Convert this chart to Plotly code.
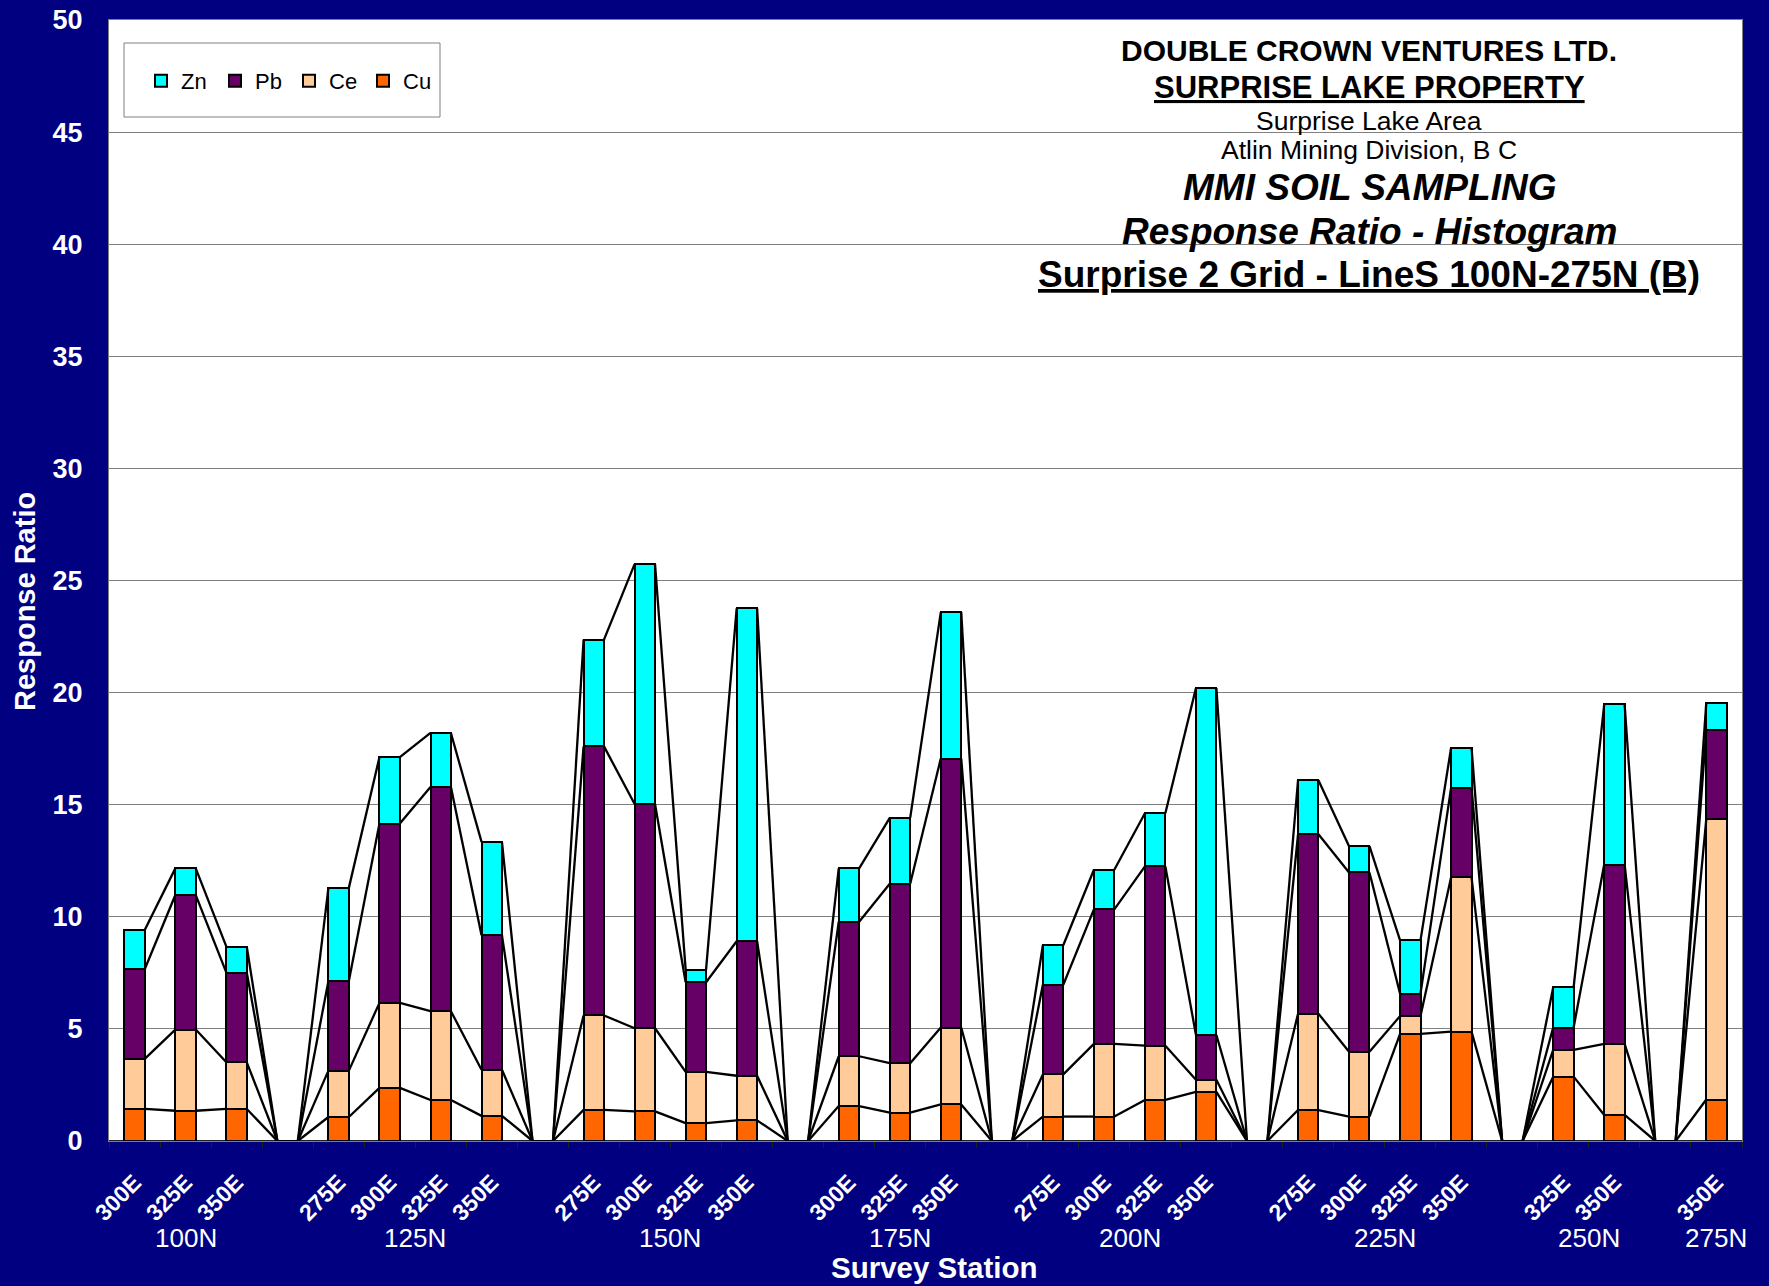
import numpy as np
import plotly.graph_objects as go

# ---------------- data ----------------
lines = ["100N", "100N", "100N", "",
         "125N", "125N", "125N", "125N", "",
         "150N", "150N", "150N", "150N", "",
         "175N", "175N", "175N", "",
         "200N", "200N", "200N", "200N", "",
         "225N", "225N", "225N", "225N", "",
         "250N", "250N", "",
         "275N"]
stations = ["300E", "325E", "350E", "",
            "275E", "300E", "325E", "350E", "",
            "275E", "300E", "325E", "350E", "",
            "300E", "325E", "350E", "",
            "275E", "300E", "325E", "350E", "",
            "275E", "300E", "325E", "350E", "",
            "325E", "350E", "",
            "350E"]
cu = [1.43, 1.35, 1.43, 0, 1.07, 2.37, 1.83, 1.12, 0, 1.39, 1.32, 0.80, 0.92, 0,
      1.56, 1.27, 1.63, 0, 1.09, 1.09, 1.83, 2.19, 0, 1.38, 1.09, 4.78, 4.88, 0,
      2.87, 1.16, 0, 1.85]
ce = [2.23, 3.62, 2.08, 0, 2.07, 3.79, 3.96, 2.06, 0, 4.21, 3.71, 2.28, 1.99, 0,
      2.22, 2.20, 3.43, 0, 1.88, 3.24, 2.42, 0.54, 0, 4.30, 2.89, 0.79, 6.88, 0,
      1.19, 3.17, 0, 12.50]
pb = [4, 6, 4, 0, 4, 8, 10, 6, 0, 12, 10, 4, 6, 0,
      6, 8, 12, 0, 4, 6, 8, 2, 0, 8, 8, 1, 4, 0,
      1, 8, 0, 4]
zn = [1.75, 1.19, 1.16, 0, 4.15, 2.96, 2.41, 4.16, 0, 4.76, 10.70, 0.56, 14.85, 0,
      2.38, 2.94, 6.53, 0, 1.76, 1.77, 2.37, 15.47, 0, 2.41, 1.17, 2.38, 1.78, 0,
      1.79, 7.14, 0, 1.19]
series_names = ["Cu", "Ce", "Pb", "Zn"]
series_colors = ["#FF6600", "#FFCC99", "#660066", "#00FFFF"]
y_ticks = [0, 5, 10, 15, 20, 25, 30, 35, 40, 45, 50]

# ---------------- styling ----------------
FONT = "Liberation Sans, Arial, sans-serif"
NAVY = "#000080"
BAR_W = 0.4
W, H = 1769, 1286
ML, MR, MT, MB = 109, 27, 20, 145
PW, PH = W - ML - MR, H - MT - MB

def px_x(px):
    return (px - ML) / PW

def px_y(py):
    return 1 - (py - MT) / PH

x = np.arange(len(stations))
values = [cu, ce, pb, zn]

fig = go.Figure()
for name, col, vals in zip(series_names, series_colors, values):
    fig.add_trace(go.Bar(
        x=x, y=vals, name=name, width=BAR_W,
        marker=dict(color=col, line=dict(color="black", width=2)),
        hoverinfo="skip",
    ))

# series lines (Excel style): connect right edge of each stack level to left edge of next
cum = np.cumsum(np.array(values, dtype=float), axis=0)
lx, ly = [], []
for level in cum:
    for i in range(len(x) - 1):
        lx += [x[i] + BAR_W / 2, x[i + 1] - BAR_W / 2, None]
        ly += [level[i], level[i + 1], None]
fig.add_trace(go.Scatter(x=lx, y=ly, mode="lines", showlegend=False,
                         line=dict(color="black", width=2.3), hoverinfo="skip"))

annotations = []
# group labels
groups = []
for i, g in enumerate(lines):
    if g and (not groups or groups[-1][0] != g):
        groups.append([g, [i]])
    elif g:
        groups[-1][1].append(i)
for g, idx in groups:
    annotations.append(dict(x=float(np.mean(idx)), xref="x", y=px_y(1238), yref="paper",
                            text=g, showarrow=False, yanchor="middle",
                            font=dict(family=FONT, size=26, color="white")))

# axis titles
annotations.append(dict(x=px_x(935), xref="paper", y=px_y(1268), yref="paper",
                        text="<b>Survey Station</b>", showarrow=False, yanchor="middle",
                        font=dict(family=FONT, size=29.5, color="white")))
annotations.append(dict(x=px_x(25), xref="paper", y=px_y(602), yref="paper",
                        text="<b>Response Ratio</b>", showarrow=False, textangle=-90,
                        xanchor="center", yanchor="middle",
                        font=dict(family=FONT, size=29, color="white")))

# title block
title_lines = [
    ("<b>DOUBLE CROWN VENTURES LTD.</b>", 51, 30),
    ("<b><u>SURPRISE LAKE PROPERTY</u></b>", 87, 31),
    ("Surprise Lake Area", 121, 26.5),
    ("Atlin Mining Division, B C", 150, 26.5),
    ("<b><i>MMI SOIL SAMPLING</i></b>", 187, 37),
    ("<b><i>Response Ratio - Histogram</i></b>", 231, 37),
    ("<b><u>Surprise 2 Grid - LineS 100N-275N (B)</u></b>", 274, 37),
]
for txt, ypx, sz in title_lines:
    annotations.append(dict(x=px_x(1369), xref="paper", y=px_y(ypx), yref="paper",
                            text=txt, showarrow=False, xanchor="center", yanchor="middle",
                            font=dict(family=FONT, size=sz, color="black")))

shapes = [dict(type="rect", xref="paper", yref="paper",
               x0=px_x(124), x1=px_x(440), y0=px_y(117), y1=px_y(43),
               fillcolor="white", line=dict(color="#808080", width=1), layer="above")]

fig.update_layout(
    width=W, height=H,
    margin=dict(l=ML, r=MR, t=MT, b=MB, autoexpand=False),
    paper_bgcolor=NAVY, plot_bgcolor="white",
    barmode="stack", bargap=0.6,
    showlegend=True,
    legend=dict(orientation="h", x=px_x(141), y=px_y(81), xanchor="left", yanchor="middle",
                bgcolor="rgba(0,0,0,0)", borderwidth=0, traceorder="reversed",
                entrywidth=29, entrywidthmode="pixels",
                font=dict(family=FONT, size=22, color="black")),
    annotations=annotations,
    shapes=shapes,
    xaxis=dict(range=[-0.5, len(x) - 0.5], tickmode="array", tickvals=list(x),
               ticktext=stations, tickangle=-45, automargin=False,
               tickfont=dict(family=FONT, size=23, color="white", weight="bold"),
               ticks="outside", ticklen=18, tickcolor="rgba(0,0,0,0)",
               minor=dict(tickmode="linear", tick0=-0.5, dtick=1, ticks="outside",
                          ticklen=6, tickcolor="#202020", tickwidth=1, showgrid=False),
               showgrid=False, showline=True, linecolor="#808080", linewidth=1, mirror=True,
               zeroline=False),
    yaxis=dict(range=[0, 50], tickmode="array", tickvals=y_ticks, automargin=False,
               tickfont=dict(family=FONT, size=27, color="white", weight="bold"),
               ticks="outside", ticklen=20, tickcolor="rgba(0,0,0,0)",
               showgrid=True, gridcolor="#808080", gridwidth=1,
               showline=True, linecolor="#808080", linewidth=1, mirror=True,
               zeroline=True, zerolinecolor="#202020", zerolinewidth=2),
)

fig.write_html("out.html", config={"displayModeBar": False},
               post_script="document.body.style.margin='0';")
